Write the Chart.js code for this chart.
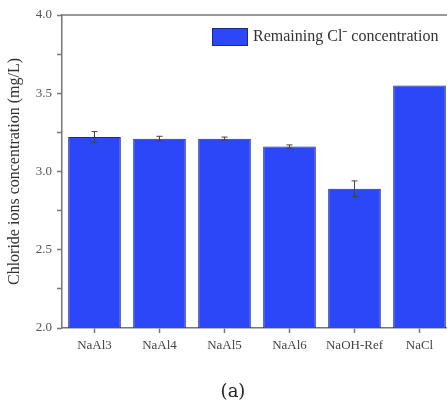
<!DOCTYPE html>
<html>
<head>
<meta charset="utf-8">
<script src="https://cdn.jsdelivr.net/npm/chart.js@4.4.1/dist/chart.umd.min.js"></script>
<style>
  html, body { margin: 0; padding: 0; background: #fff; overflow: hidden; }
  #wrap { width: 452px; height: 403px; }
</style>
</head>
<body>
<div id="wrap"><canvas id="chart" width="452" height="403"></canvas></div>
<script>
// Remaining chloride after treatment, one bar per sample
const samples = ['NaAl3', 'NaAl4', 'NaAl5', 'NaAl6', 'NaOH-Ref', 'NaCl'];
const chloride = [3.22, 3.21, 3.21, 3.16, 2.89, 3.55];
const chlorideErr = [0.035, 0.015, 0.01, 0.01, 0.05, 0];
const yTicks = [2.0, 2.5, 3.0, 3.5, 4.0];

const BAR_BLUE = '#2b47f7';
const AXIS_GREY = '#777';
const serif = '"Liberation Serif", "Times New Roman", serif';

// error bars drawn from the same scale as the bars
const errorBars = {
  id: 'errorBars',
  afterDatasetsDraw(chart) {
    const { ctx, scales: { y } } = chart;
    const meta = chart.getDatasetMeta(0);
    ctx.save();
    ctx.strokeStyle = '#444';
    ctx.lineWidth = 1;
    meta.data.forEach((bar, i) => {
      const e = chlorideErr[i];
      if (!e) return;
      const top = y.getPixelForValue(chloride[i] + e);
      const bot = y.getPixelForValue(chloride[i] - e);
      ctx.beginPath();
      ctx.moveTo(bar.x, top);
      ctx.lineTo(bar.x, bot);
      ctx.moveTo(bar.x - 3, top);
      ctx.lineTo(bar.x + 3, top);
      ctx.moveTo(bar.x - 3, bot);
      ctx.lineTo(bar.x + 3, bot);
      ctx.stroke();
    });
    ctx.restore();
  }
};

// top frame line, in-plot legend and the panel letter underneath
const frameAndLegend = {
  id: 'frameAndLegend',
  afterDraw(chart) {
    const { ctx, chartArea: a } = chart;
    ctx.save();
    ctx.strokeStyle = AXIS_GREY;
    ctx.lineWidth = 1.5;
    ctx.beginPath();
    ctx.moveTo(a.left, a.top);
    ctx.lineTo(a.right, a.top);
    ctx.stroke();

    const bx = 212, by = 28;
    ctx.fillStyle = BAR_BLUE;
    ctx.fillRect(bx, by, 36, 18);
    ctx.strokeStyle = '#1b2a8a';
    ctx.lineWidth = 1;
    ctx.strokeRect(bx + 0.5, by + 0.5, 35, 17);
    ctx.fillStyle = '#333';
    ctx.font = '16px ' + serif;
    ctx.textBaseline = 'middle';
    ctx.fillText(chart.data.datasets[0].label, 253, by + 9);

    ctx.fillStyle = '#222';
    ctx.font = '18px "DejaVu Serif", serif';
    ctx.textAlign = 'center';
    ctx.fillText('(a)', 233, 392);
    ctx.restore();
  }
};

new Chart(document.getElementById('chart'), {
  type: 'bar',
  data: {
    labels: samples,
    datasets: [{
      label: 'Remaining Cl\u207B concentration',
      data: chloride,
      backgroundColor: BAR_BLUE,
      borderColor: '#1b2a8a',
      borderWidth: 1,
      barPercentage: 0.81,
      categoryPercentage: 1.0
    }]
  },
  options: {
    responsive: false,
    animation: false,
    layout: { padding: { left: 0, top: 15, right: 0, bottom: 35 } },
    plugins: {
      legend: { display: false },
      tooltip: { enabled: false }
    },
    scales: {
      x: {
        afterFit: (s) => { s.height = 40; },
        border: { color: AXIS_GREY, width: 1.5 },
        grid: {
          offset: false,
          drawOnChartArea: false,
          tickLength: 5,
          color: AXIS_GREY,
          tickWidth: 1.5
        },
        ticks: {
          padding: 5,
          color: '#444',
          font: { family: serif, size: 13 }
        }
      },
      y: {
        min: yTicks[0],
        max: yTicks[yTicks.length - 1],
        afterFit: (s) => { s.width = 62; },
        border: { color: AXIS_GREY, width: 1.5 },
        grid: {
          drawOnChartArea: false,
          tickLength: 5,
          color: AXIS_GREY,
          tickWidth: 1.5
        },
        afterBuildTicks: (s) => {
          // majors from yTicks, plus unlabelled minors halfway between
          const t = [];
          yTicks.forEach((v, i) => {
            t.push({ value: v });
            if (i < yTicks.length - 1) t.push({ value: (v + yTicks[i + 1]) / 2 });
          });
          s.ticks = t;
        },
        ticks: {
          padding: 5,
          color: '#555',
          font: { family: serif, size: 13 },
          callback: (v) => yTicks.includes(v) ? v.toFixed(1) : ''
        },
        title: {
          display: true,
          text: 'Chloride ions concentration (mg/L)',
          color: '#333',
          font: { family: serif, size: 16 },
          padding: { top: 5, bottom: 0 }
        }
      }
    }
  },
  plugins: [errorBars, frameAndLegend]
});
</script>
</body>
</html>
